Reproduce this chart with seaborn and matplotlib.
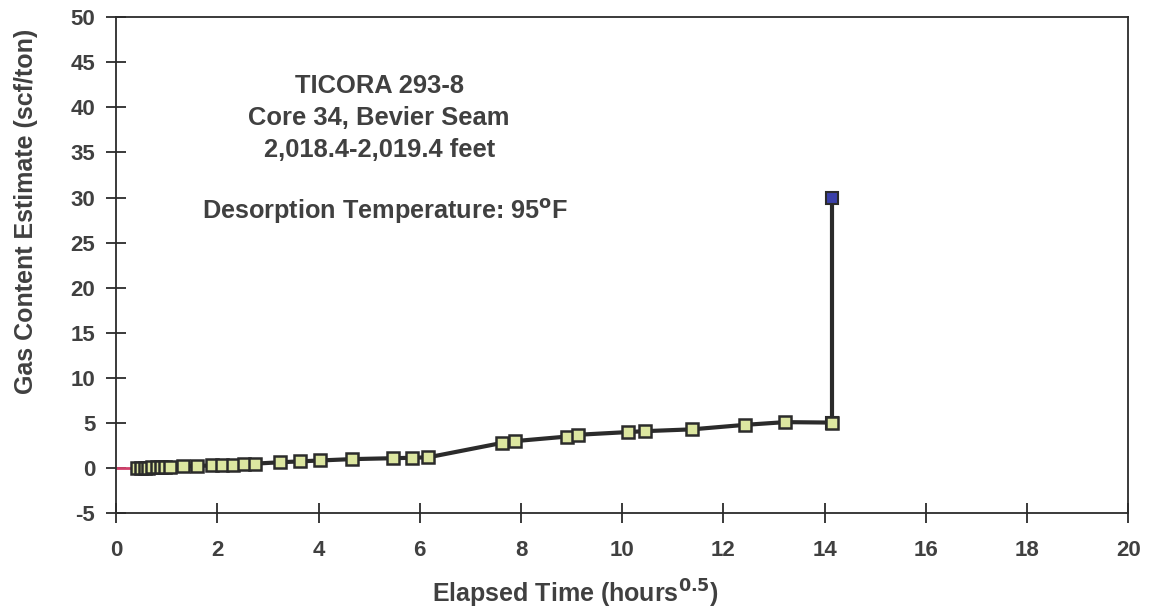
import matplotlib
matplotlib.use("Agg")
import matplotlib.pyplot as plt
import seaborn as sns
import pandas as pd

# Elapsed time (hours^0.5) and cumulative gas content (scf/ton)
elapsed = [0.42, 0.50, 0.57, 0.64, 0.72, 0.80, 0.88, 0.97, 1.07,
           1.32, 1.60, 1.90, 2.10, 2.32, 2.52, 2.75, 3.24, 3.64, 4.03, 4.66,
           5.47, 5.85, 6.17, 7.63, 7.89, 8.91, 9.13, 10.12, 10.45, 11.38,
           12.43, 13.22, 14.15]
gas = [0.0, 0.02, 0.04, 0.06, 0.08, 0.1, 0.12, 0.14, 0.16,
       0.2, 0.25, 0.3, 0.35, 0.4, 0.45, 0.5, 0.65, 0.75, 0.85, 1.0,
       1.1, 1.15, 1.2, 2.8, 3.0, 3.5, 3.7, 4.0, 4.1, 4.3,
       4.8, 5.1, 5.05]
final_time = [14.15, 14.15]
final_gas = [5.05, 29.9]
lead_time = [0.0, 0.42]
lead_gas = [0.0, 0.0]

df = pd.DataFrame({"t": elapsed, "g": gas})
df_final = pd.DataFrame({"t": final_time, "g": final_gas})
df_lead = pd.DataFrame({"t": lead_time, "g": lead_gas})

sns.set_style("ticks")
plt.rcParams["font.family"] = ["Liberation Sans", "DejaVu Sans"]
plt.rcParams["font.weight"] = "bold"
plt.rcParams["axes.unicode_minus"] = False

fig, ax = plt.subplots(figsize=(11.49, 6.11), dpi=100)
fig.subplots_adjust(left=0.101, right=0.982, top=0.972, bottom=0.16)

sns.lineplot(data=df_lead, x="t", y="g", ax=ax, color="#d0406a", lw=2,
             sort=False, estimator=None)
sns.lineplot(data=df_final, x="t", y="g", ax=ax, color="#2b2b2b", lw=3,
             sort=False, estimator=None, marker="s", markersize=8,
             markerfacecolor="#3a3fa8", markeredgecolor="#2b2b2b",
             markeredgewidth=1.5)
sns.lineplot(data=df, x="t", y="g", ax=ax, color="#2b2b2b", lw=3,
             sort=False, estimator=None, marker="s", markersize=9,
             markerfacecolor="#dce6a0", markeredgecolor="#2b2b2b",
             markeredgewidth=1.8)

ax.set_xlim(0, 20)
ax.set_ylim(-5, 50)
ax.set_xticks(range(0, 21, 2))
ax.set_yticks(range(-5, 51, 5))
ax.tick_params(direction="inout", length=14, width=1.3, colors="#2b2b2b",
               labelsize=16, labelcolor="#404040", pad=8)
ax.tick_params(axis="x", pad=12)
for s in ax.spines.values():
    s.set_visible(True)
    s.set_color("#2b2b2b")
    s.set_linewidth(1.3)

ax.set_xlabel(r"Elapsed Time (hours$^{\mathbf{0.5}}$)", fontsize=18,
              fontweight="bold", color="#404040")
ax.set_ylabel("Gas Content Estimate (scf/ton)", fontsize=18,
              fontweight="bold", color="#404040")
ax.xaxis.set_label_coords(0.454, -0.131)
ax.yaxis.set_label_coords(-0.077, 0.609)

ax.text(5.2, 38.8, "TICORA 293-8\nCore 34, Bevier Seam\n2,018.4-2,019.4 feet",
        ha="center", va="center", fontsize=18.4, fontweight="bold",
        color="#404040", linespacing=1.42)
ax.text(1.7, 28.4, r"Desorption Temperature: 95$^{\mathbf{o}}$F",
        ha="left", va="center", fontsize=18.2, fontweight="bold",
        color="#404040")

fig.savefig("out.png", dpi=100)
